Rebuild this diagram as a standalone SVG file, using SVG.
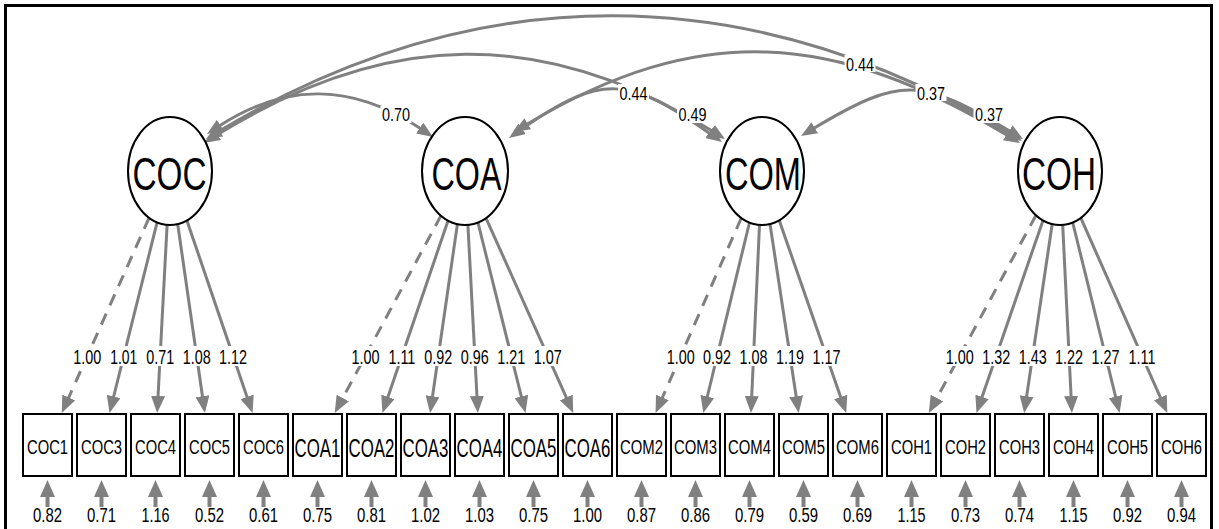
<svg xmlns="http://www.w3.org/2000/svg" width="1219" height="529" viewBox="0 0 1219 529">
  <style>
    .edge { fill: none; stroke: #808080; stroke-width: 3; }
    .dash { stroke-dasharray: 12 9; }
    .res { fill: none; stroke: #808080; stroke-width: 4; }
    .bg { fill: #ffffff; }
    .t { font-family: "Liberation Sans", Arial, Helvetica, sans-serif; fill: #000; text-anchor: middle; }
    .el { font-size: 19px; }
    .ll { font-size: 20px; }
    .rl { font-size: 20px; }
    .obs { fill: #ffffff; stroke: #000; stroke-width: 2; }
    .lat { fill: #ffffff; stroke: #000; stroke-width: 2; }
    .ot { font-size: 20px; }
    .ota { font-size: 25px; }
    .lt { font-size: 46px; }
  </style>
  <defs>
    <marker id="headLoad" markerUnits="userSpaceOnUse" markerWidth="17" markerHeight="14" viewBox="0 0 17 14" refX="1" refY="7" orient="auto">
      <path d="M0,0 L17,7 L0,14 Z" fill="#808080"/>
    </marker>
    <marker id="headCov" markerUnits="userSpaceOnUse" markerWidth="16" markerHeight="13" viewBox="0 0 16 13" refX="1" refY="6.5" orient="auto-start-reverse">
      <path d="M0,0 L16,6.5 L0,13 Z" fill="#808080"/>
    </marker>
    <marker id="headRes" markerUnits="userSpaceOnUse" markerWidth="17" markerHeight="15" viewBox="0 0 17 15" refX="1" refY="7.5" orient="auto">
      <path d="M0,0 L17,7.5 L0,15 Z" fill="#808080"/>
    </marker>
  </defs>

  <rect x="5.5" y="5.5" width="1206" height="540" fill="#ffffff" stroke="#000" stroke-width="3"/>

  <g id="connectors">
    <!-- latent covariances (two-headed curves) -->
    <g id="covariances">
      <path class="edge" marker-start="url(#headCov)" marker-end="url(#headCov)" d="M219.6,125.8 C287,82 353,83.4 420.5,128.6"/>
      <path class="edge" marker-start="url(#headCov)" marker-end="url(#headCov)" d="M216.7,135.1 C386,30 543,26 712.3,131.1"/>
      <path class="edge" marker-start="url(#headCov)" marker-end="url(#headCov)" d="M218.9,131.3 C478,-24 750,-22 1009.1,133.3"/>
      <path class="edge" marker-start="url(#headCov)" marker-end="url(#headCov)" d="M521.3,129.4 C602.3,72.7 628.7,76.7 709.7,133.4"/>
      <path class="edge" marker-start="url(#headCov)" marker-end="url(#headCov)" d="M526.9,124.3 C699.6,20.6 834.4,31.6 1007.1,135.3"/>
      <path class="edge" marker-start="url(#headCov)" marker-end="url(#headCov)" d="M813.9,128.3 C902,75.4 922,78.4 1010.1,131.3"/>
    </g>

    <!-- factor loadings -->
    <g id="loadings">
      <path class="edge dash" marker-end="url(#headLoad)" d="M149.1,217.8 L68.3,398.4"/>
      <path class="edge" marker-end="url(#headLoad)" d="M157.1,222.4 L113.4,397.5"/>
      <path class="edge" marker-end="url(#headLoad)" d="M167.1,224.9 L158.0,397.0"/>
      <path class="edge" marker-end="url(#headLoad)" d="M177.7,224.1 L202.6,397.2"/>
      <path class="edge" marker-end="url(#headLoad)" d="M186.9,220.5 L247.4,397.9"/>

      <path class="edge dash" marker-end="url(#headLoad)" d="M441.1,215.4 L342.3,398.9"/>
      <path class="edge" marker-end="url(#headLoad)" d="M448.1,220.5 L387.6,397.9"/>
      <path class="edge" marker-end="url(#headLoad)" d="M457.4,224.1 L432.4,397.2"/>
      <path class="edge" marker-end="url(#headLoad)" d="M467.9,224.9 L477.0,397.0"/>
      <path class="edge" marker-end="url(#headLoad)" d="M477.9,222.4 L521.6,397.5"/>
      <path class="edge" marker-end="url(#headLoad)" d="M485.9,217.8 L566.7,398.4"/>

      <path class="edge dash" marker-end="url(#headLoad)" d="M741.3,218.0 L662.0,398.4"/>
      <path class="edge" marker-end="url(#headLoad)" d="M749.5,222.5 L707.1,397.5"/>
      <path class="edge" marker-end="url(#headLoad)" d="M759.5,224.9 L751.7,397.0"/>
      <path class="edge" marker-end="url(#headLoad)" d="M770.0,224.0 L796.3,397.2"/>
      <path class="edge" marker-end="url(#headLoad)" d="M779.2,220.3 L841.0,397.9"/>

      <path class="edge dash" marker-end="url(#headLoad)" d="M1036.0,215.3 L936.4,398.9"/>
      <path class="edge" marker-end="url(#headLoad)" d="M1043.0,220.4 L981.7,397.9"/>
      <path class="edge" marker-end="url(#headLoad)" d="M1052.2,224.0 L1026.5,397.2"/>
      <path class="edge" marker-end="url(#headLoad)" d="M1062.7,224.9 L1071.1,397.0"/>
      <path class="edge" marker-end="url(#headLoad)" d="M1072.7,222.5 L1115.8,397.5"/>
      <path class="edge" marker-end="url(#headLoad)" d="M1080.8,217.9 L1160.8,398.4"/>
    </g>

    <!-- residual variances -->
    <g id="residuals">
      <path class="res" marker-end="url(#headRes)" d="M47.5,507 V496"/>
      <path class="res" marker-end="url(#headRes)" d="M101.5,507 V496"/>
      <path class="res" marker-end="url(#headRes)" d="M155.5,507 V496"/>
      <path class="res" marker-end="url(#headRes)" d="M209.5,507 V496"/>
      <path class="res" marker-end="url(#headRes)" d="M263.5,507 V496"/>
      <path class="res" marker-end="url(#headRes)" d="M317.5,507 V496"/>
      <path class="res" marker-end="url(#headRes)" d="M371.5,507 V496"/>
      <path class="res" marker-end="url(#headRes)" d="M425.5,507 V496"/>
      <path class="res" marker-end="url(#headRes)" d="M479.5,507 V496"/>
      <path class="res" marker-end="url(#headRes)" d="M533.5,507 V496"/>
      <path class="res" marker-end="url(#headRes)" d="M587.5,507 V496"/>
      <path class="res" marker-end="url(#headRes)" d="M641.5,507 V496"/>
      <path class="res" marker-end="url(#headRes)" d="M695.5,507 V496"/>
      <path class="res" marker-end="url(#headRes)" d="M749.5,507 V496"/>
      <path class="res" marker-end="url(#headRes)" d="M803.5,507 V496"/>
      <path class="res" marker-end="url(#headRes)" d="M857.5,507 V496"/>
      <path class="res" marker-end="url(#headRes)" d="M911.5,507 V496"/>
      <path class="res" marker-end="url(#headRes)" d="M965.5,507 V496"/>
      <path class="res" marker-end="url(#headRes)" d="M1019.5,507 V496"/>
      <path class="res" marker-end="url(#headRes)" d="M1073.5,507 V496"/>
      <path class="res" marker-end="url(#headRes)" d="M1127.5,507 V496"/>
      <path class="res" marker-end="url(#headRes)" d="M1181.5,507 V496"/>
    </g>

    <!-- covariance labels -->
    <g id="cov-labels">
      <rect class="bg" x="380.5" y="106" width="31" height="17"/>
      <text class="t el" x="396" y="121" textLength="28" lengthAdjust="spacingAndGlyphs">0.70</text>
      <rect class="bg" x="618" y="84" width="31" height="17"/>
      <text class="t el" x="633.5" y="99.5" textLength="28" lengthAdjust="spacingAndGlyphs">0.44</text>
      <rect class="bg" x="677" y="106" width="31" height="17"/>
      <text class="t el" x="692.5" y="121" textLength="28" lengthAdjust="spacingAndGlyphs">0.49</text>
      <rect class="bg" x="844.5" y="55" width="31" height="17"/>
      <text class="t el" x="860" y="70.5" textLength="28" lengthAdjust="spacingAndGlyphs">0.44</text>
      <rect class="bg" x="915.5" y="84" width="31" height="17"/>
      <text class="t el" x="931" y="99.5" textLength="28" lengthAdjust="spacingAndGlyphs">0.37</text>
      <rect class="bg" x="973.5" y="106" width="31" height="17"/>
      <text class="t el" x="989" y="121" textLength="28" lengthAdjust="spacingAndGlyphs">0.37</text>
    </g>

    <!-- loading labels -->
    <g id="loading-labels">
      <rect class="bg" x="72.3" y="346" width="30" height="20"/>
      <text class="t ll" x="87.3" y="363.5" textLength="28" lengthAdjust="spacingAndGlyphs">1.00</text>
      <rect class="bg" x="108.8" y="346" width="30" height="20"/>
      <text class="t ll" x="123.8" y="363.5" textLength="27" lengthAdjust="spacingAndGlyphs">1.01</text>
      <rect class="bg" x="145.2" y="346" width="30" height="20"/>
      <text class="t ll" x="160.2" y="363.5" textLength="28" lengthAdjust="spacingAndGlyphs">0.71</text>
      <rect class="bg" x="181.7" y="346" width="30" height="20"/>
      <text class="t ll" x="196.7" y="363.5" textLength="28" lengthAdjust="spacingAndGlyphs">1.08</text>
      <rect class="bg" x="218.1" y="346" width="30" height="20"/>
      <text class="t ll" x="233.1" y="363.5" textLength="28" lengthAdjust="spacingAndGlyphs">1.12</text>

      <rect class="bg" x="350.4" y="346" width="30" height="20"/>
      <text class="t ll" x="365.4" y="363.5" textLength="28" lengthAdjust="spacingAndGlyphs">1.00</text>
      <rect class="bg" x="386.9" y="346" width="30" height="20"/>
      <text class="t ll" x="401.9" y="363.5" textLength="27" lengthAdjust="spacingAndGlyphs">1.11</text>
      <rect class="bg" x="423.3" y="346" width="30" height="20"/>
      <text class="t ll" x="438.3" y="363.5" textLength="28" lengthAdjust="spacingAndGlyphs">0.92</text>
      <rect class="bg" x="459.8" y="346" width="30" height="20"/>
      <text class="t ll" x="474.8" y="363.5" textLength="28" lengthAdjust="spacingAndGlyphs">0.96</text>
      <rect class="bg" x="496.2" y="346" width="30" height="20"/>
      <text class="t ll" x="511.2" y="363.5" textLength="28" lengthAdjust="spacingAndGlyphs">1.21</text>
      <rect class="bg" x="532.7" y="346" width="30" height="20"/>
      <text class="t ll" x="547.7" y="363.5" textLength="28" lengthAdjust="spacingAndGlyphs">1.07</text>

      <rect class="bg" x="665.7" y="346" width="30" height="20"/>
      <text class="t ll" x="680.7" y="363.5" textLength="28" lengthAdjust="spacingAndGlyphs">1.00</text>
      <rect class="bg" x="702.1" y="346" width="30" height="20"/>
      <text class="t ll" x="717.1" y="363.5" textLength="28" lengthAdjust="spacingAndGlyphs">0.92</text>
      <rect class="bg" x="738.6" y="346" width="30" height="20"/>
      <text class="t ll" x="753.6" y="363.5" textLength="28" lengthAdjust="spacingAndGlyphs">1.08</text>
      <rect class="bg" x="775" y="346" width="30" height="20"/>
      <text class="t ll" x="790" y="363.5" textLength="28" lengthAdjust="spacingAndGlyphs">1.19</text>
      <rect class="bg" x="811.5" y="346" width="30" height="20"/>
      <text class="t ll" x="826.5" y="363.5" textLength="28" lengthAdjust="spacingAndGlyphs">1.17</text>

      <rect class="bg" x="944.8" y="346" width="30" height="20"/>
      <text class="t ll" x="959.8" y="363.5" textLength="28" lengthAdjust="spacingAndGlyphs">1.00</text>
      <rect class="bg" x="981.2" y="346" width="30" height="20"/>
      <text class="t ll" x="996.2" y="363.5" textLength="28" lengthAdjust="spacingAndGlyphs">1.32</text>
      <rect class="bg" x="1017.7" y="346" width="30" height="20"/>
      <text class="t ll" x="1032.7" y="363.5" textLength="28" lengthAdjust="spacingAndGlyphs">1.43</text>
      <rect class="bg" x="1054.1" y="346" width="30" height="20"/>
      <text class="t ll" x="1069.1" y="363.5" textLength="28" lengthAdjust="spacingAndGlyphs">1.22</text>
      <rect class="bg" x="1090.6" y="346" width="30" height="20"/>
      <text class="t ll" x="1105.6" y="363.5" textLength="28" lengthAdjust="spacingAndGlyphs">1.27</text>
      <rect class="bg" x="1127" y="346" width="30" height="20"/>
      <text class="t ll" x="1142" y="363.5" textLength="27" lengthAdjust="spacingAndGlyphs">1.11</text>
    </g>

    <!-- residual labels -->
    <g id="residual-labels">
      <text class="t rl" x="47.5" y="522" textLength="29" lengthAdjust="spacingAndGlyphs">0.82</text>
      <text class="t rl" x="101.5" y="522" textLength="29" lengthAdjust="spacingAndGlyphs">0.71</text>
      <text class="t rl" x="155.5" y="522" textLength="28" lengthAdjust="spacingAndGlyphs">1.16</text>
      <text class="t rl" x="209.5" y="522" textLength="29" lengthAdjust="spacingAndGlyphs">0.52</text>
      <text class="t rl" x="263.5" y="522" textLength="29" lengthAdjust="spacingAndGlyphs">0.61</text>
      <text class="t rl" x="317.5" y="522" textLength="29" lengthAdjust="spacingAndGlyphs">0.75</text>
      <text class="t rl" x="371.5" y="522" textLength="29" lengthAdjust="spacingAndGlyphs">0.81</text>
      <text class="t rl" x="425.5" y="522" textLength="29" lengthAdjust="spacingAndGlyphs">1.02</text>
      <text class="t rl" x="479.5" y="522" textLength="29" lengthAdjust="spacingAndGlyphs">1.03</text>
      <text class="t rl" x="533.5" y="522" textLength="29" lengthAdjust="spacingAndGlyphs">0.75</text>
      <text class="t rl" x="587.5" y="522" textLength="29" lengthAdjust="spacingAndGlyphs">1.00</text>
      <text class="t rl" x="641.5" y="522" textLength="29" lengthAdjust="spacingAndGlyphs">0.87</text>
      <text class="t rl" x="695.5" y="522" textLength="29" lengthAdjust="spacingAndGlyphs">0.86</text>
      <text class="t rl" x="749.5" y="522" textLength="29" lengthAdjust="spacingAndGlyphs">0.79</text>
      <text class="t rl" x="803.5" y="522" textLength="29" lengthAdjust="spacingAndGlyphs">0.59</text>
      <text class="t rl" x="857.5" y="522" textLength="29" lengthAdjust="spacingAndGlyphs">0.69</text>
      <text class="t rl" x="911.5" y="522" textLength="28" lengthAdjust="spacingAndGlyphs">1.15</text>
      <text class="t rl" x="965.5" y="522" textLength="29" lengthAdjust="spacingAndGlyphs">0.73</text>
      <text class="t rl" x="1019.5" y="522" textLength="29" lengthAdjust="spacingAndGlyphs">0.74</text>
      <text class="t rl" x="1073.5" y="522" textLength="28" lengthAdjust="spacingAndGlyphs">1.15</text>
      <text class="t rl" x="1127.5" y="522" textLength="29" lengthAdjust="spacingAndGlyphs">0.92</text>
      <text class="t rl" x="1181.5" y="522" textLength="29" lengthAdjust="spacingAndGlyphs">0.94</text>
    </g>
  </g>

  <!-- latent factors -->
  <g id="COC"><ellipse class="lat" cx="170" cy="171" rx="42" ry="54"/><text class="t lt" x="169.5" y="190" textLength="74" lengthAdjust="spacingAndGlyphs">COC</text></g>
  <g id="COA"><ellipse class="lat" cx="465" cy="171" rx="43" ry="54"/><text class="t lt" x="466.5" y="190" textLength="70" lengthAdjust="spacingAndGlyphs">COA</text></g>
  <g id="COM"><ellipse class="lat" cx="762" cy="171" rx="42" ry="54"/><text class="t lt" x="763" y="190" textLength="76" lengthAdjust="spacingAndGlyphs">COM</text></g>
  <g id="COH"><ellipse class="lat" cx="1060" cy="171" rx="42" ry="54"/><text class="t lt" x="1059" y="190" textLength="74" lengthAdjust="spacingAndGlyphs">COH</text></g>

  <!-- observed indicators -->
  <g id="COC1"><rect class="obs" x="23" y="414" width="49" height="62"/><text class="t ot" x="47.5" y="454" textLength="41" lengthAdjust="spacingAndGlyphs">COC1</text></g>
  <g id="COC3"><rect class="obs" x="77" y="414" width="49" height="62"/><text class="t ot" x="101.5" y="454" textLength="41" lengthAdjust="spacingAndGlyphs">COC3</text></g>
  <g id="COC4"><rect class="obs" x="131" y="414" width="49" height="62"/><text class="t ot" x="155.5" y="454" textLength="41" lengthAdjust="spacingAndGlyphs">COC4</text></g>
  <g id="COC5"><rect class="obs" x="185" y="414" width="49" height="62"/><text class="t ot" x="209.5" y="454" textLength="41" lengthAdjust="spacingAndGlyphs">COC5</text></g>
  <g id="COC6"><rect class="obs" x="239" y="414" width="49" height="62"/><text class="t ot" x="263.5" y="454" textLength="41" lengthAdjust="spacingAndGlyphs">COC6</text></g>
  <!-- the COA indicator names are drawn larger and squeezed horizontally -->
  <g id="COA1"><rect class="obs" x="293" y="414" width="49" height="62"/><text class="t ota" transform="translate(317.5,457) scale(0.675,1)">COA1</text></g>
  <g id="COA2"><rect class="obs" x="347" y="414" width="49" height="62"/><text class="t ota" transform="translate(371.5,457) scale(0.675,1)">COA2</text></g>
  <g id="COA3"><rect class="obs" x="401" y="414" width="49" height="62"/><text class="t ota" transform="translate(425.5,457) scale(0.675,1)">COA3</text></g>
  <g id="COA4"><rect class="obs" x="455" y="414" width="49" height="62"/><text class="t ota" transform="translate(479.5,457) scale(0.675,1)">COA4</text></g>
  <g id="COA5"><rect class="obs" x="509" y="414" width="49" height="62"/><text class="t ota" transform="translate(533.5,457) scale(0.675,1)">COA5</text></g>
  <g id="COA6"><rect class="obs" x="563" y="414" width="49" height="62"/><text class="t ota" transform="translate(587.5,457) scale(0.675,1)">COA6</text></g>
  <g id="COM2"><rect class="obs" x="617" y="414" width="49" height="62"/><text class="t ot" x="641.5" y="454" textLength="43" lengthAdjust="spacingAndGlyphs">COM2</text></g>
  <g id="COM3"><rect class="obs" x="671" y="414" width="49" height="62"/><text class="t ot" x="695.5" y="454" textLength="43" lengthAdjust="spacingAndGlyphs">COM3</text></g>
  <g id="COM4"><rect class="obs" x="725" y="414" width="49" height="62"/><text class="t ot" x="749.5" y="454" textLength="43" lengthAdjust="spacingAndGlyphs">COM4</text></g>
  <g id="COM5"><rect class="obs" x="779" y="414" width="49" height="62"/><text class="t ot" x="803.5" y="454" textLength="43" lengthAdjust="spacingAndGlyphs">COM5</text></g>
  <g id="COM6"><rect class="obs" x="833" y="414" width="49" height="62"/><text class="t ot" x="857.5" y="454" textLength="43" lengthAdjust="spacingAndGlyphs">COM6</text></g>
  <g id="COH1"><rect class="obs" x="887" y="414" width="49" height="62"/><text class="t ot" x="911.5" y="454" textLength="41" lengthAdjust="spacingAndGlyphs">COH1</text></g>
  <g id="COH2"><rect class="obs" x="941" y="414" width="49" height="62"/><text class="t ot" x="965.5" y="454" textLength="41" lengthAdjust="spacingAndGlyphs">COH2</text></g>
  <g id="COH3"><rect class="obs" x="995" y="414" width="49" height="62"/><text class="t ot" x="1019.5" y="454" textLength="41" lengthAdjust="spacingAndGlyphs">COH3</text></g>
  <g id="COH4"><rect class="obs" x="1049" y="414" width="49" height="62"/><text class="t ot" x="1073.5" y="454" textLength="41" lengthAdjust="spacingAndGlyphs">COH4</text></g>
  <g id="COH5"><rect class="obs" x="1103" y="414" width="49" height="62"/><text class="t ot" x="1127.5" y="454" textLength="41" lengthAdjust="spacingAndGlyphs">COH5</text></g>
  <g id="COH6"><rect class="obs" x="1157" y="414" width="49" height="62"/><text class="t ot" x="1181.5" y="454" textLength="41" lengthAdjust="spacingAndGlyphs">COH6</text></g>
</svg>
